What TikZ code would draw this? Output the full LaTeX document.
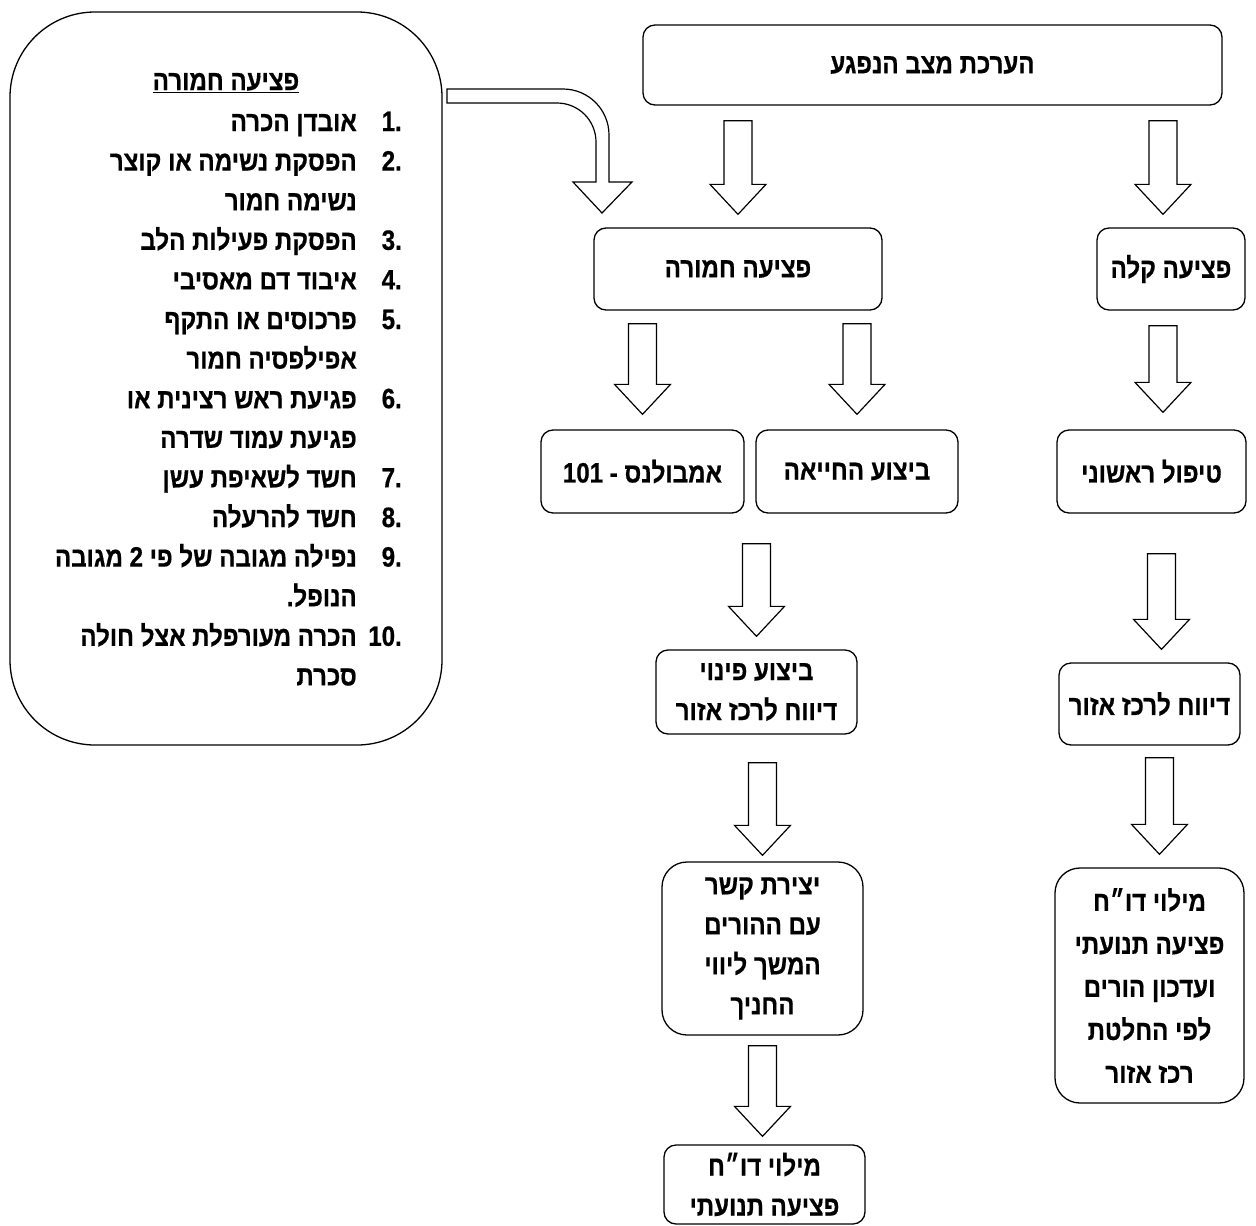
\documentclass[tikz,border=0pt]{standalone}
\usepackage{fontspec}
\usetikzlibrary{calc, positioning}
\newfontfamily\hebfont[Script=Hebrew, FakeStretch=0.86, BoldFeatures={FakeBold=0.6}]{Liberation Sans}
\TeXXeTstate=1
\newcommand{\heb}[1]{\beginR #1\endR}
\newcommand{\lline}[2]{\heb{#2}\hbox to 45pt{\hfill.#1}}
\newcommand{\contline}[1]{\heb{#1}\hbox to 45pt{}}

\begin{document}
\begin{tikzpicture}[
        x=1pt, y=-1pt,
        every node/.style={font=\hebfont\bfseries\fontsize{28}{40}\selectfont},
        box/.style={draw, line width=1.3pt, rounded corners=12pt, inner sep=0pt,
                    align=center},
        tallbox/.style={box, rounded corners=25pt},
        barrow/.style={draw, line width=1.2pt, fill=white, to path={
            let \p1=(\tikztostart), \p2=(\tikztotarget) in
            (\x1-14pt,\y1) -- (\x1+14pt,\y1) -- (\x1+14pt,\y2+30pt) -- (\x1+28pt,\y2+30pt)
            -- (\x1,\y2) -- (\x1-28pt,\y2+30pt) -- (\x1-14pt,\y2+30pt) -- cycle}},
    ]
    \useasboundingbox (0,0) rectangle (1256,1226);

    % left list
    \node[draw, line width=1.3pt, rounded corners=85pt, minimum width=432pt,
          minimum height=733pt] (info) at (226,378.5) {};
    \node[anchor=base] (title) at (226,90) {\underline{\heb{פציעה חמורה}}};
    \foreach \txt [count=\i from 0] in {
        \lline{1}{אובדן הכרה},
        \lline{2}{הפסקת נשימה או קוצר},
        \contline{נשימה חמור},
        \lline{3}{הפסקת פעילות הלב},
        \lline{4}{איבוד דם מאסיבי},
        \lline{5}{פרכוסים או התקף},
        \contline{אפילפסיה חמור},
        \lline{6}{פגיעת ראש רצינית או},
        \contline{פגיעת עמוד שדרה},
        \lline{7}{חשד לשאיפת עשן},
        \lline{8}{חשד להרעלה},
        \lline{9}{נפילה מגובה של פי 2 מגובה},
        \contline{הנופל.},
        \lline{10}{הכרה מעורפלת אצל חולה},
        \contline{סכרת}}
        \node[anchor=base east, inner sep=0pt] (ln\i) at (402,131+39.6*\i) {\txt};

    % flow
    \node[box, minimum width=579pt, minimum height=80pt] (top) at (932.5,65) {\heb{הערכת מצב הנפגע}};
    \node[box, minimum width=288pt, minimum height=82pt] (sev) at (738,269) {\heb{פציעה חמורה}};
    \node[box, minimum width=148pt, minimum height=82pt] (light) at (1171,269) {\heb{פציעה קלה}};
    \node[box, minimum width=203pt, minimum height=83pt] (amb) at (642.5,471.5) {\heb{אמבולנס - \beginL 101\endL}};
    \node[box, minimum width=202pt, minimum height=83pt] (cpr) at (857,471.5) {\heb{ביצוע החייאה}};
    \node[box, minimum width=189pt, minimum height=83pt] (aid) at (1151.5,471.5) {\heb{טיפול ראשוני}};
    \node[box, minimum width=201pt, minimum height=84pt] (evac) at (756.5,692) {\heb{ביצוע פינוי}\\\heb{דיווח לרכז אזור}};
    \node[box, minimum width=181pt, minimum height=82pt] (rep) at (1149.5,704) {\heb{דיווח לרכז אזור}};
    \node[tallbox, minimum width=201pt, minimum height=173pt] (contact) at (762.5,948.5)
        {\heb{יצירת קשר}\\\heb{עם ההורים}\\\heb{המשך ליווי}\\\heb{החניך}};
    \node[tallbox, minimum width=189pt, minimum height=235pt,
          font=\hebfont\bfseries\fontsize{28}{43}\selectfont] (final) at (1149.5,985.5)
        {\heb{מילוי דו״ח}\\\heb{פציעה תנועתי}\\\heb{ועדכון הורים}\\\heb{לפי החלטת}\\\heb{רכז אזור}};
    \node[box, minimum width=201pt, minimum height=79pt] (bottom) at (764.5,1184.5)
        {\heb{מילוי דו״ח}\\\heb{פציעה תנועתי}};

    \draw[barrow] ($(top.south -| sev)+(0,15)$) to ($(sev.north)+(0,-13)$);
    \draw[barrow] ($(top.south -| light)+(-8,15)$) to ($(light.north)+(-8,-13)$);
    \draw[barrow] ($(sev.south -| amb)+(0,13)$) to ($(amb.north)+(0,-15)$);
    \draw[barrow] ($(sev.south -| cpr)+(0,13)$) to ($(cpr.north)+(0,-15)$);
    \draw[barrow] ($(light.south)+(-8,15)$) to ($(aid.north)+(0,-17)$);
    \draw[barrow] ($(amb.south -| evac)+(0,30)$) to ($(evac.north)+(0,-13)$);
    \draw[barrow] ($(aid.south)+(10,40)$) to ($(rep.north)+(0,-13)$);
    \draw[barrow] ($(evac.south -| contact)+(0,28)$) to ($(contact.north)+(0,-6)$);
    \draw[barrow] ($(rep.south)+(10,12)$) to ($(final.north)+(0,-13)$);
    \draw[barrow] ($(contact.south)+(0,10)$) to ($(bottom.north)+(0,-8)$);

    % bent arrow from the list
    \draw[line width=1.2pt, fill=white] (447,89) -- (563,89)
        arc[start angle=90, end angle=0, radius=46pt] -- (609,182) -- (632,182) -- (602,213)
        -- (573,182) -- (596,182) -- (596,142)
        arc[start angle=0, end angle=90, radius=39pt] -- (447,103) -- cycle;
\end{tikzpicture}
\end{document}
